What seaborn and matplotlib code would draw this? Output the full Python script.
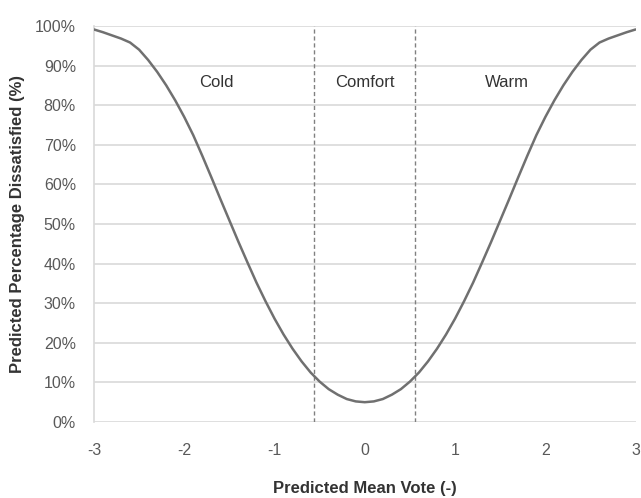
import matplotlib
matplotlib.use("Agg")
import matplotlib.pyplot as plt
import seaborn as sns
import pandas as pd

pmv = [-3.0, -2.9, -2.8, -2.7, -2.6, -2.5, -2.4, -2.3, -2.2, -2.1,
       -2.0, -1.9, -1.8, -1.7, -1.6, -1.5, -1.4, -1.3, -1.2, -1.1,
       -1.0, -0.9, -0.8, -0.7, -0.6, -0.5, -0.4, -0.3, -0.2, -0.1,
       0.0, 0.1, 0.2, 0.3, 0.4, 0.5, 0.6, 0.7, 0.8, 0.9,
       1.0, 1.1, 1.2, 1.3, 1.4, 1.5, 1.6, 1.7, 1.8, 1.9,
       2.0, 2.1, 2.2, 2.3, 2.4, 2.5, 2.6, 2.7, 2.8, 2.9, 3.0]
ppd = [99.1, 98.4, 97.6, 96.8, 95.8, 94.0, 91.4, 88.4, 85.0, 81.2,
       77.0, 72.4, 67.2, 61.8, 56.3, 50.9, 45.5, 40.3, 35.2, 30.5,
       26.1, 22.1, 18.5, 15.3, 12.5, 10.2, 8.3, 6.9, 5.8, 5.2,
       5.0, 5.2, 5.8, 6.9, 8.3, 10.2, 12.5, 15.3, 18.5, 22.1,
       26.1, 30.5, 35.2, 40.3, 45.5, 50.9, 56.3, 61.8, 67.2, 72.4,
       77.0, 81.2, 85.0, 88.4, 91.4, 94.0, 95.8, 96.8, 97.6, 98.4, 99.1]
zone_bounds = [-0.56, 0.56]
zone_labels = ["Cold", "Comfort", "Warm"]
zone_label_x = [-1.64, 0.0, 1.57]
yticks = [0, 10, 20, 30, 40, 50, 60, 70, 80, 90, 100]
xticks = [-3, -2, -1, 0, 1, 2, 3]

sns.set_theme(style="white")
plt.rcParams['font.family'] = ['Liberation Sans', 'DejaVu Sans']

fig = plt.figure(figsize=(6.41, 4.98), dpi=100)
ax = fig.add_axes([0.1466, 0.1526, 0.845, 0.7954])

df = pd.DataFrame({"PMV": pmv, "PPD": ppd})
for y in yticks:
    ax.axhline(y, color="#d9d9d9", lw=1.2, zorder=0)
sns.lineplot(data=df, x="PMV", y="PPD", ax=ax, color="#707070", lw=1.8, zorder=3)
for b in zone_bounds:
    ax.axvline(b, color="#808080", lw=1.0, ls=(0, (3, 2)), zorder=2)
for lbl, xl in zip(zone_labels, zone_label_x):
    ax.text(xl, 85.8, lbl, ha="center", va="center", fontsize=12, color="#333333")

ax.set_xlim(-3, 3)
ax.set_ylim(0, 100)
ax.set_xticks(xticks)
ax.set_xticklabels([str(t) for t in xticks])
ax.set_yticks(yticks)
ax.set_yticklabels([f"{t}%" for t in yticks])
ax.tick_params(axis="both", labelsize=11.5, labelcolor="#595959", length=0)
ax.tick_params(axis="x", pad=15)
ax.tick_params(axis="y", pad=13)
for s in ["top", "right", "bottom"]:
    ax.spines[s].set_visible(False)
ax.spines["left"].set_color("#d9d9d9")
ax.spines["left"].set_linewidth(1.2)

ax.set_xlabel("Predicted Mean Vote (-)", fontsize=12, fontweight="bold", color="#333333", labelpad=17)
ax.set_ylabel("Predicted Percentage Dissatisfied (%)", fontsize=12, fontweight="bold", color="#333333", labelpad=7)

fig.savefig("out.png", dpi=100)
